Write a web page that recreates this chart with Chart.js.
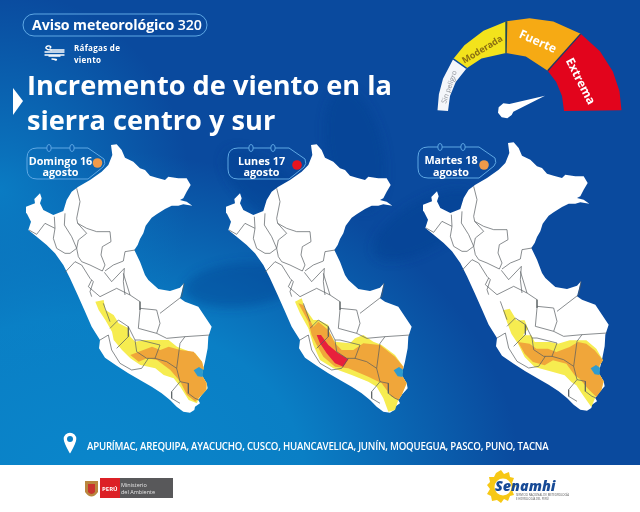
<!DOCTYPE html>
<html>
<head>
<meta charset="utf-8">
<title>Aviso meteorológico 320</title>
<script src="https://cdn.jsdelivr.net/npm/chart.js@4"></script>
<style>
  html, body { margin: 0; padding: 0; }
  #page {
    position: relative; width: 640px; height: 512px; overflow: hidden;
    font-family: "Open Sans", sans-serif; color: #fff;
    background:
      radial-gradient(ellipse 190px 200px at 0px 190px, rgba(10,130,200,.85), rgba(10,130,200,0)),
      radial-gradient(ellipse 430px 330px at 90px 480px, #0a86cb 0, #0a7fc5 50%, rgba(10,74,160,0) 100%),
      #0a4a9e;
  }
  #page canvas { position: absolute; }
  .txt { position: absolute; white-space: nowrap; }
  #flower { position: absolute; left: 0; top: 0; }
  #strip { position: absolute; left: 0; top: 465px; width: 640px; height: 47px; background: #fff; }
  .day { position: absolute; width: 80px; text-align: center; font-weight: 700; font-size: 10.8px; line-height: 11.5px; }
  .gl { position: absolute; white-space: nowrap; transform: translate(-50%, -50%) rotate(var(--r)); font-weight: 700; }
</style>
</head>
<body>
<div id="page">
  <svg id="flower" width="640" height="512">
    <defs><filter id="soft"><feGaussianBlur stdDeviation="5"/></filter></defs>
    <g fill="#063c8e" fill-opacity=".4" filter="url(#soft)">
      <ellipse cx="355" cy="150" rx="28" ry="62" transform="rotate(-12 355 150)"/>
      <ellipse cx="270" cy="190" rx="24" ry="58" transform="rotate(-50 270 190)"/>
      <ellipse cx="425" cy="225" rx="24" ry="58" transform="rotate(60 425 225)"/>
      <ellipse cx="240" cy="285" rx="22" ry="55" transform="rotate(-95 240 285)"/>
    </g>
  </svg>

  <svg class="txt" style="left:0;top:0" width="640" height="512" fill="none">
    <rect x="23" y="14" width="184" height="22" rx="11" stroke="#5fa8e4" stroke-width="1"/>
    <path d="M13 88 L23 101 L13 115 Z" fill="#fff" stroke="none"/>
    <!-- wind icon -->
    <g stroke="#fff" stroke-width="1.4" stroke-linecap="round">
      <path d="M51 50 H64"/><path d="M45 52 H64"/><path d="M45 55 H64"/>
      <path d="M51 50 C46 50 44 47 48 46 C50 45.5 52 47 50 48"/>
      <path d="M49 56 H60 M52 59 C56 59 58 60 55 60"/>
    </g>
    <!-- date tags -->
    <g stroke="#5fa8e4" stroke-width="1">
      <path d="M37 148 H88 L104 159 Q106 164 103 167 L88 179 H37 Q27 179 27 169 V158 Q27 148 37 148 Z"/>
      <path d="M238 148 H289 L305 159 Q307 164 304 167 L289 179 H238 Q228 179 228 169 V158 Q228 148 238 148 Z"/>
      <path d="M428 147 H479 L495 158 Q497 163 494 166 L479 178 H428 Q418 178 418 168 V157 Q418 147 428 147 Z"/>
      <ellipse cx="49" cy="148" rx="2.2" ry="3.5" fill="#0a5fb0"/><ellipse cx="72" cy="148" rx="2.2" ry="3.5" fill="#0a5fb0"/>
      <ellipse cx="251" cy="148" rx="2.2" ry="3.5" fill="#0a4a9e"/><ellipse cx="273" cy="148" rx="2.2" ry="3.5" fill="#0a4a9e"/>
      <ellipse cx="440" cy="147" rx="2.2" ry="3.5" fill="#0a4a9e"/><ellipse cx="463" cy="147" rx="2.2" ry="3.5" fill="#0a4a9e"/>
    </g>
    <circle cx="97.5" cy="163" r="4.8" fill="#f09a4a"/>
    <circle cx="297" cy="165" r="4.8" fill="#e8141e"/>
    <circle cx="484" cy="165" r="4.8" fill="#f09a4a"/>
    <!-- location pin -->
    <path d="M70 452 C66 445 64.500 442 64.500 439 A5.500 5.500 0 0 1 75.500 439 C75.500 442 74 445 70 452 Z" stroke="#fff" stroke-width="1.6" fill="#fff"/>
    <circle cx="70" cy="439" r="3" fill="#0a80c6"/>
  </svg>

  <div class="txt" style="left:32px;top:14px;font-size:14.2px;font-weight:700;line-height:22px;letter-spacing:-.1px">Aviso meteorológico <span style="font-weight:600">320</span></div>
  <div class="txt" style="left:74px;top:42px;font-size:8px;font-weight:700;line-height:12px;letter-spacing:.3px">Ráfagas de<br>viento</div>
  <div class="txt" style="left:27px;top:67px;font-size:27.2px;font-weight:700;line-height:35px">Incremento de viento en la<br>sierra centro y sur</div>

  <canvas id="map1" width="200" height="290" style="left:24.700px;top:135px"></canvas>
  <canvas id="map2" width="200" height="290" style="left:225px;top:135px"></canvas>
  <canvas id="map3" width="200" height="290" style="left:422.200px;top:132.500px"></canvas>
  <canvas id="gauge" width="220" height="130" style="left:420px;top:0"></canvas>

  <div class="day" style="left:20.500px;top:154.500px">Domingo 16<br>agosto</div>
  <div class="day" style="left:221.500px;top:154.500px">Lunes 17<br>agosto</div>
  <div class="day" style="left:411px;top:154px">Martes 18<br>agosto</div>

  <div class="gl" style="left:449px;top:87px;--r:-71deg;font-size:7px;color:#8b8f96;font-weight:400">Sin peligro</div>
  <div class="gl" style="left:482px;top:49px;--r:-31deg;font-size:9px;color:#8a6f12;font-weight:700">Moderada</div>
  <div class="gl" style="left:538px;top:41px;--r:24deg;font-size:12px">Fuerte</div>
  <div class="gl" style="left:581px;top:81px;--r:63deg;font-size:12px">Extrema</div>

  <div class="txt" style="left:87px;top:439px;font-size:11px;font-weight:600;line-height:14px;letter-spacing:-.25px;transform:scaleX(.88);transform-origin:left center">APURÍMAC, AREQUIPA, AYACUCHO, CUSCO, HUANCAVELICA, JUNÍN, MOQUEGUA, PASCO, PUNO, TACNA</div>

  <div id="strip"></div>
  <svg class="txt" style="left:0;top:465px" width="640" height="47">
    <!-- ministry logo -->
    <path d="M85 16 H98 V27 Q91.500 36 85 27 Z" fill="#b9873f"/>
    <path d="M88 19 H95 V27 Q91.500 31 88 27 Z" fill="#c9342f"/>
    <rect x="100" y="13" width="20" height="20" fill="#dc2026"/>
    <rect x="120" y="13" width="53" height="20" fill="#58585a"/>
    <text x="102" y="26" font-size="6" font-family="Open Sans" font-weight="700" fill="#fff">PERÚ</text>
    <text x="121" y="22" font-size="5.500" font-family="Open Sans" fill="#e4e4e4">Ministerio</text>
    <text x="121" y="29" font-size="5.500" font-family="Open Sans" fill="#e4e4e4">del Ambiente</text>
    <!-- senamhi logo -->
    <path d="M501 5 L504 9 L509 7 L510 12 L514 13 L512 18 L516 21 L512 25 L514 30 L510 31 L508 36 L504 34 L501 38 L497 35 L492 36 L491 31 L487 29 L490 24 L487 20 L490 17 L489 12 L494 12 L496 8 Z" fill="#f7c815"/>
    <circle cx="503" cy="22" r="8.500" fill="#fff"/>
    <text x="495" y="26" font-size="14.300" font-family="Open Sans" font-weight="800" font-style="italic" fill="#174a96">Senamhi</text>
    <text x="516" y="31" font-size="2.800" font-family="Open Sans" fill="#555">SERVICIO NACIONAL DE METEOROLOGÍA</text>
    <text x="516" y="34.500" font-size="2.800" font-family="Open Sans" fill="#555">E HIDROLOGÍA DEL PERÚ</text>
  </svg>
</div>

<script>
// All map arrays in one shared 600 x 870 map grid
var peruOutline = [[258,30],[275,28],[290,45],[300,68],[325,80],[345,100],[360,105],[375,122],[395,128],[420,135],[430,125],[460,130],[485,130],[497,150],[485,170],[475,190],[465,195],[485,200],[502,212],[475,208],[460,212],[440,212],[420,222],[395,238],[380,248],[362,272],[355,295],[345,312],[338,330],[328,345],[345,380],[360,420],[370,435],[400,462],[435,468],[465,458],[477,445],[465,490],[480,500],[520,515],[540,545],[560,575],[550,605],[548,640],[540,680],[535,700],[530,720],[545,745],[548,760],[530,780],[520,795],[525,805],[510,815],[508,825],[495,833],[475,830],[455,815],[435,795],[410,775],[380,755],[350,738],[310,715],[275,692],[240,668],[222,640],[225,615],[200,575],[178,525],[158,480],[135,430],[115,390],[90,355],[65,330],[35,305],[10,285],[18,260],[5,235],[3,215],[30,205],[28,192],[45,175],[50,190],[45,205],[55,225],[85,240],[115,228],[125,195],[140,170],[160,155],[195,135],[230,110],[250,90],[262,60]];

var borderLines = [
  [[155,160],[165,200],[155,250],[158,265],[185,280],[215,290],[255,290],[258,320],[232,335],[228,360],[240,390],[232,408]],
  [[120,235],[118,270],[140,305],[155,340],[160,365],[170,380],[195,390],[232,408]],
  [[158,265],[185,295],[160,315],[155,340]],
  [[88,245],[90,280],[85,310],[95,340],[120,355],[135,355],[155,340]],
  [[12,285],[35,298],[60,265],[90,280]],
  [[120,412],[150,380],[170,390],[195,430],[205,440],[195,470],[200,485]],
  [[238,412],[260,440],[298,400],[295,440],[300,480]],
  [[240,408],[265,390],[295,378],[300,350],[330,345]],
  [[200,435],[190,455],[225,485],[275,460],[315,480],[345,500],[345,525],[340,580],[395,595],[425,610],[480,605],[555,600]],
  [[295,415],[315,480]],
  [[345,520],[395,525],[405,565],[395,595]],
  [[405,535],[470,485],[477,445]],
  [[235,505],[255,560]],
  [[255,580],[280,555],[310,575],[310,605],[285,630],[275,640]],
  [[310,575],[330,615]],
  [[225,615],[250,600],[260,645],[285,685],[320,705],[350,700],[370,670]],
  [[330,615],[345,615],[405,630],[390,670],[425,680],[455,700],[465,625],[480,605]],
  [[330,615],[335,650],[365,670],[390,670]],
  [[455,700],[465,740],[440,770],[440,790],[465,805]],
  [[465,740],[490,745],[490,775],[510,790],[522,795]]
];

// Wind hazard areas per day
var domingoYellow = [[211,500],[236,495],[241,525],[266,540],[281,565],[311,580],[316,605],[331,620],[356,615],[411,615],[431,615],[456,635],[481,645],[511,655],[531,680],[536,700],[530,720],[545,745],[544,765],[521,790],[516,805],[491,795],[466,755],[446,730],[416,720],[391,700],[346,690],[316,670],[291,645],[266,615],[261,590],[241,555],[221,525]];
var domingoOrange = [[316,660],[341,650],[381,635],[406,645],[431,635],[466,645],[506,650],[531,680],[536,700],[530,720],[545,745],[544,765],[521,790],[511,800],[486,780],[466,740],[436,705],[396,675],[366,670],[341,680]];

var lunesYellow = [[210,500],[230,490],[240,520],[265,555],[280,555],[310,570],[315,595],[330,620],[375,625],[390,610],[415,600],[445,620],[470,630],[510,660],[535,695],[530,720],[545,745],[530,780],[520,795],[510,825],[490,830],[475,790],[455,755],[430,740],[380,720],[325,700],[285,675],[265,630],[250,580],[225,535]];
var lunesOrange = [[220,505],[235,510],[255,555],[265,575],[280,560],[310,585],[330,625],[350,645],[385,645],[415,625],[465,630],[510,665],[535,695],[530,720],[545,745],[530,780],[520,795],[500,785],[470,745],[430,725],[370,700],[330,695],[295,665],[275,630],[260,600],[250,560]];
var lunesRed = [[275,600],[288,600],[310,630],[340,655],[370,673],[355,695],[330,685],[305,655],[285,625]];

var martesYellow = [[243,532],[263,527],[278,552],[283,562],[308,562],[318,587],[303,607],[328,607],[338,627],[383,627],[408,632],[443,622],[493,622],[523,647],[543,682],[533,697],[530,720],[545,745],[538,772],[523,787],[508,822],[483,787],[463,757],[448,747],[428,727],[393,717],[338,702],[308,672],[288,632],[268,602],[253,562]];
var martesOrange = [[288,627],[323,632],[343,647],[378,647],[403,657],[443,642],[468,627],[493,632],[518,652],[543,682],[533,697],[530,720],[545,745],[538,772],[523,792],[498,767],[473,737],[458,727],[433,692],[393,682],[368,697],[333,687],[308,662]];

var lakeTiticaca = [[506,706],[522,696],[534,704],[533,726],[518,724]];

// Gauge bands, on a 660 x 390 grid
var sinPeligroBand = [[52.5,331],[56.7,283],[69,236.6],[99.7,176.7],[140,205],[107.3,246],[90,288],[84,333]];
var moderadaBand = [[99.7,176.7],[133.3,136],[190.5,92],[259.9,63.7],[258,159],[184.5,175.3],[140,205]];
var fuerteBand = [[259.9,63.7],[328.5,55],[399.9,64.4],[482,101.6],[383,212],[317.5,169.5],[258,159]];
var extremaBand = [[482,101.6],[539.9,153.6],[578.6,214.4],[598.5,273.6],[604.5,331],[432,333],[426,288],[408.7,246],[383,212]];
var gaugeNeedle = [[375,287],[268,312],[250,310],[236,322],[234,338],[245,352],[262,355],[275,345],[280,335]];
var gaugeSeparators = [
  [[259.9,63.7],[258,159]],
  [[482,101.6],[383,212]],
  [[99.7,176.7],[140,205]]
];

var YELLOW = '#f6ec50';
var ORANGE = '#f0a63a';
var RED = '#e8203c';
var LAKE = '#2f9bce';
var BORDER = '#565b60';

function toPoints(pairs) {
    return pairs.map(function(p) {
        return {x: p[0], y: p[1]};
    });
}

function shape(pairs, color) {
    return {
        data: toPoints(pairs),
        showLine: true,
        fill: 'shape',
        backgroundColor: color,
        borderWidth: 0,
        pointRadius: 0
    };
}

function line(pairs, color, width) {
    return {
        data: toPoints(pairs),
        showLine: true,
        fill: false,
        borderColor: color,
        borderWidth: width,
        pointRadius: 0
    };
}

// Hidden axes: the grid maps straight onto the canvas
function drawGrid(canvasId, maxX, maxY, datasets) {
    new Chart(document.getElementById(canvasId), {
        type: 'scatter',
        data: {datasets: datasets},
        options: {
            responsive: false,
            animation: false,
            layout: {padding: 0},
            clip: false,
            scales: {
                x: {display: false, min: 0, max: maxX},
                y: {display: false, min: 0, max: maxY, reverse: true}
            },
            plugins: {legend: {display: false}, tooltip: {enabled: false}}
        }
    });
}

function drawMap(canvasId, areas) {
    // First dataset is painted last, so borders go first in the list
    var datasets = borderLines.map(function(b) {
        return line(b, BORDER, 0.7);
    });
    datasets.push(shape(lakeTiticaca, LAKE));
    areas.forEach(function(a) {
        datasets.push(shape(a[0], a[1]));
    });
    datasets.push(shape(peruOutline, '#ffffff'));
    drawGrid(canvasId, 600, 870, datasets);
}

drawMap('map1', [[domingoOrange, ORANGE], [domingoYellow, YELLOW]]);
drawMap('map2', [[lunesRed, RED], [lunesOrange, ORANGE], [lunesYellow, YELLOW]]);
drawMap('map3', [[martesOrange, ORANGE], [martesYellow, YELLOW]]);

drawGrid('gauge', 660, 390, [
    shape(gaugeNeedle, '#ffffff'),
    line(gaugeSeparators[0], '#1f4a55', 1.4),
    line(gaugeSeparators[1], '#1f3a66', 1.4),
    line(gaugeSeparators[2], '#0a4a9e', 1.4),
    shape(sinPeligroBand, '#f4f6fa'),
    shape(moderadaBand, '#f3e31c'),
    shape(fuerteBand, '#f6aa14'),
    shape(extremaBand, '#e2041c')
]);
</script>
</body>
</html>
